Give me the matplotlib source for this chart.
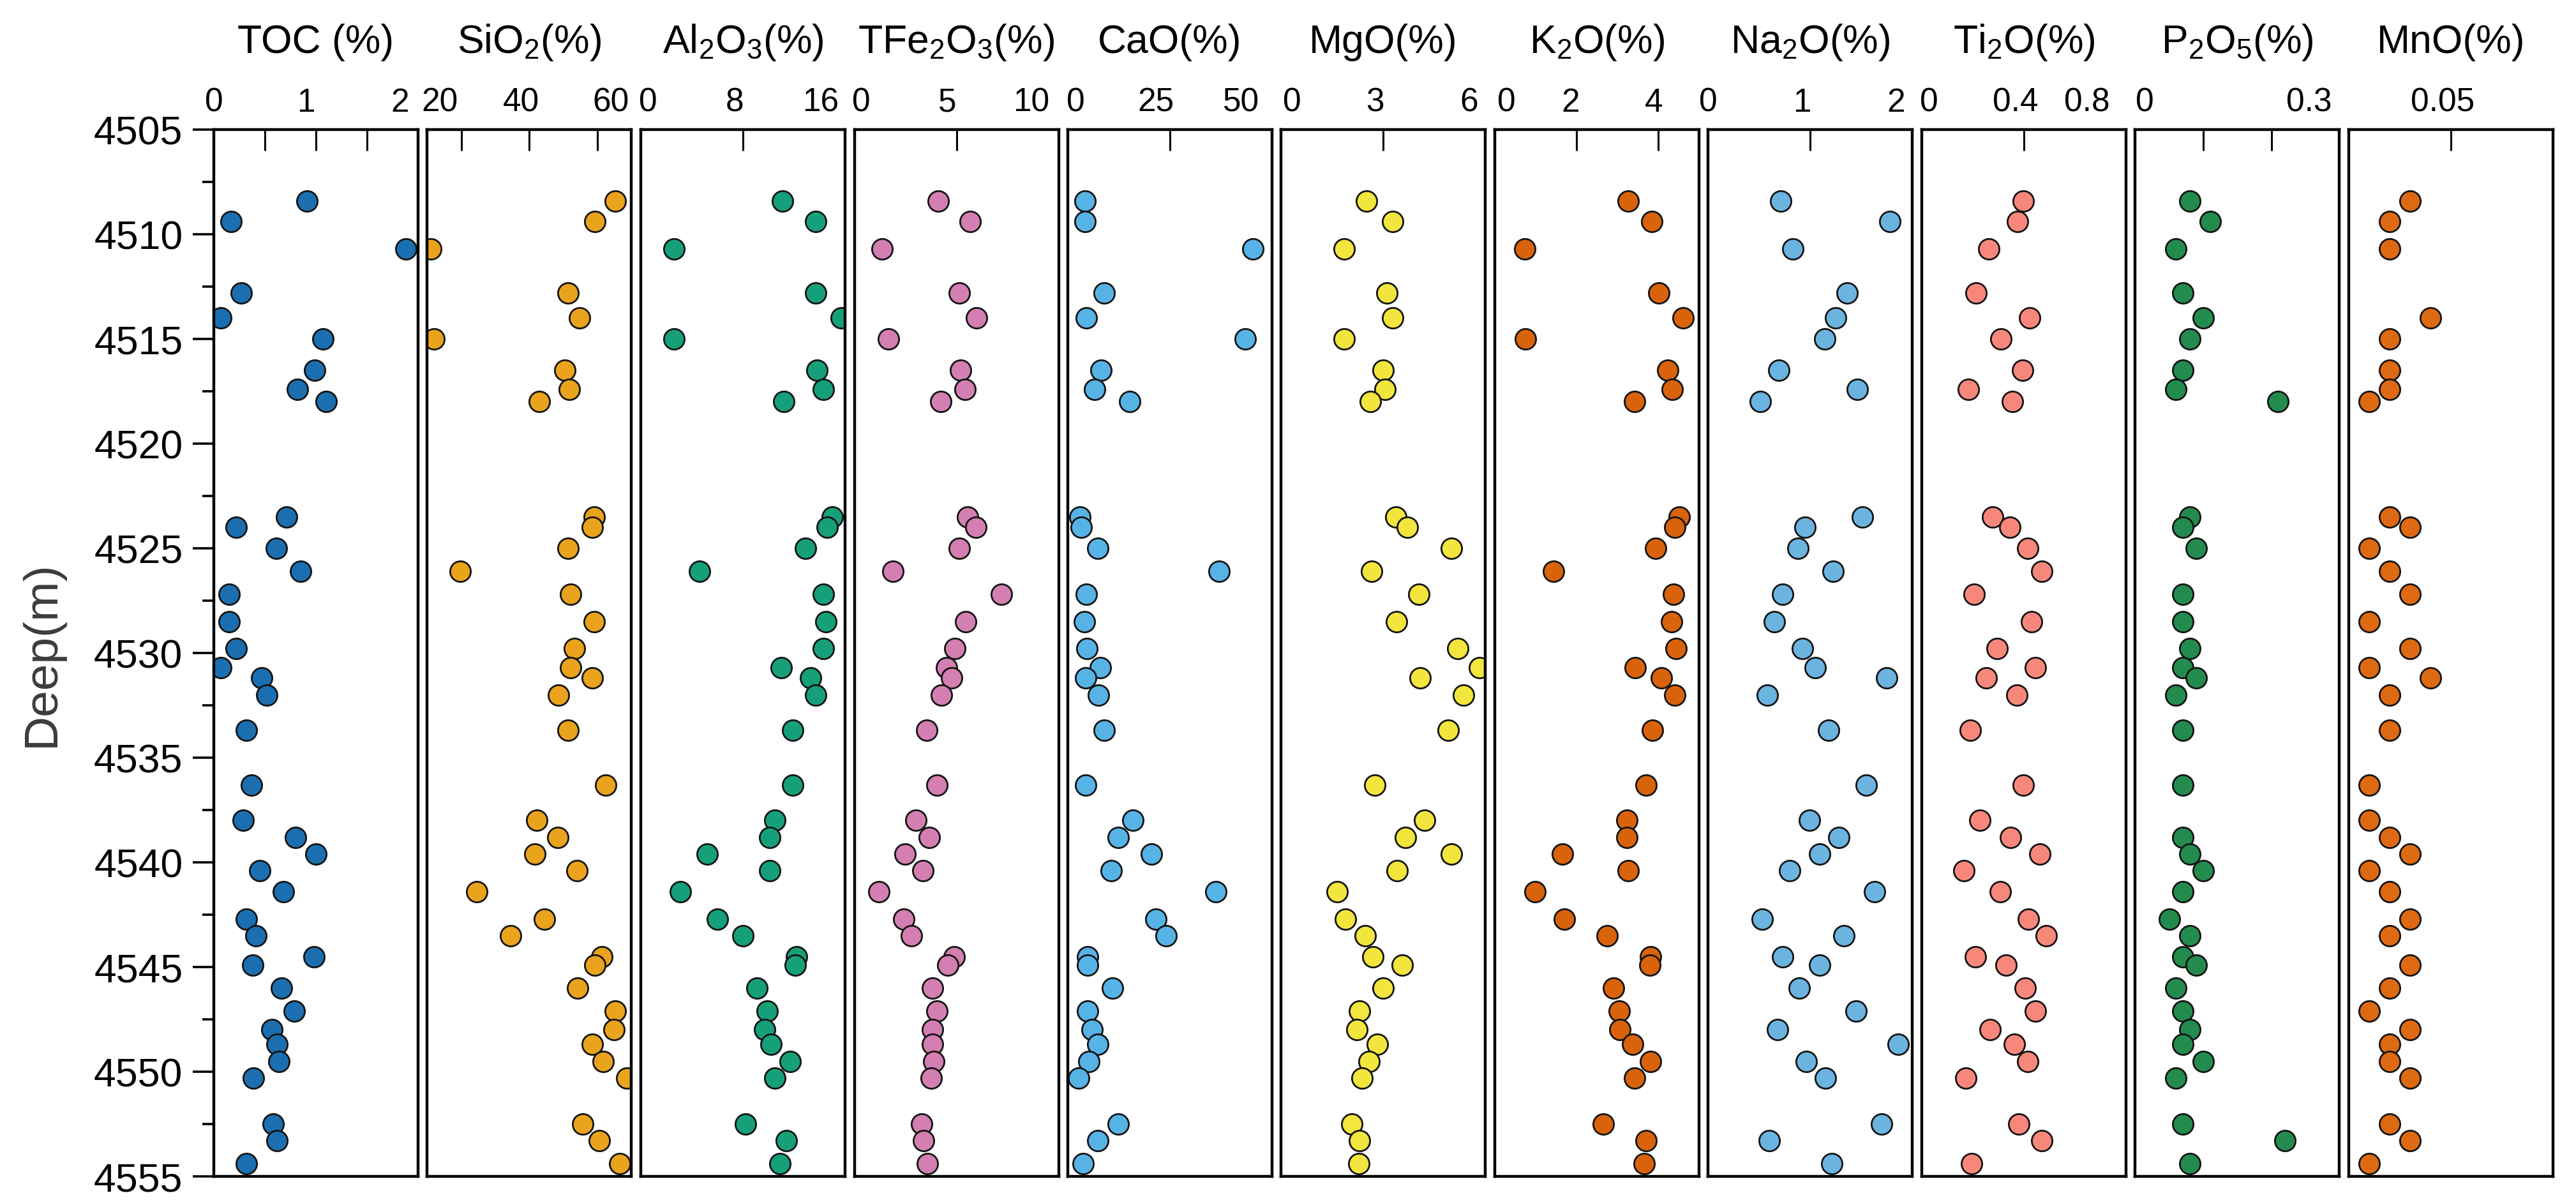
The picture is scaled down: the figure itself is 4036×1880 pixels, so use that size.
import numpy as np
import matplotlib
matplotlib.use("Agg")
import matplotlib.pyplot as plt
from matplotlib.ticker import FixedLocator, MultipleLocator

plt.rcParams['font.family'] = ['Liberation Sans', 'DejaVu Sans']
plt.rcParams['mathtext.fontset'] = 'custom'
plt.rcParams['mathtext.rm'] = 'Liberation Sans'
plt.rcParams['mathtext.it'] = 'Liberation Sans'
plt.rcParams['mathtext.default'] = 'regular'

nan = np.nan

# sample depths (m)
depth = [4508.4, 4509.4, 4510.7, 4512.8, 4514.0, 4515.0, 4516.5, 4517.4, 4518.0,
         4523.5, 4524.0, 4525.0, 4526.1, 4527.2, 4528.5, 4529.8, 4530.7, 4531.2,
         4532.0, 4533.7, 4536.3, 4538.0, 4538.8, 4539.6, 4540.4, 4541.4, 4542.7,
         4543.5, 4544.5, 4544.9, 4546.0, 4547.1, 4548.0, 4548.7, 4549.5, 4550.3,
         4552.5, 4553.3, 4554.4]

toc = [0.91, 0.17, 1.88, 0.27, 0.07, 1.07, 0.99, 0.82, 1.10,
       0.71, 0.22, 0.61, 0.85, 0.15, 0.15, 0.22, 0.07, 0.47,
       0.52, 0.32, 0.37, 0.29, 0.80, 1.00, 0.45, 0.68, 0.32,
       0.41, 0.98, 0.38, 0.66, 0.79, 0.57, 0.62, 0.64, 0.39,
       0.58, 0.62, 0.32]
sio2 = [65.2, 59.3, 11.0, 51.3, 54.8, 11.9, 50.4, 51.7, 42.9,
        59.0, 58.5, 51.3, 19.6, 52.1, 59.0, 53.2, 52.1, 58.5,
        48.5, 51.3, 62.5, 42.1, 48.4, 41.6, 54.0, 24.6, 44.5,
        34.4, 61.2, 59.3, 54.1, 65.2, 64.9, 58.5, 61.7, 68.6,
        55.7, 60.6, 66.5]
al2o3 = [11.1, 13.7, 2.6, 13.7, 15.7, 2.6, 13.8, 14.3, 11.2,
         15.0, 14.6, 12.9, 4.6, 14.3, 14.5, 14.3, 11.0, 13.3,
         13.7, 11.9, 11.9, 10.5, 10.1, 5.2, 10.1, 3.1, 6.0,
         8.0, 12.2, 12.1, 9.1, 9.9, 9.7, 10.2, 11.7, 10.5,
         8.2, 11.4, 10.9]
tfe2o3 = [4.10, 5.68, 1.37, 5.13, 5.98, 1.66, 5.19, 5.41, 4.24,
          5.54, 5.96, 5.13, 1.90, 7.19, 5.45, 4.93, 4.53, 4.75,
          4.26, 3.56, 4.04, 3.01, 3.68, 2.48, 3.35, 1.21, 2.42,
          2.79, 4.89, 4.59, 3.82, 4.06, 3.82, 3.82, 3.88, 3.76,
          3.31, 3.39, 3.58]
cao = [4.2, 4.2, 45.3, 8.9, 4.6, 43.4, 8.1, 6.6, 15.2,
       3.0, 3.3, 7.3, 37.0, 4.6, 4.1, 4.7, 8.0, 4.3,
       7.5, 8.9, 4.4, 16.0, 12.4, 20.5, 10.6, 36.3, 21.5,
       24.1, 4.8, 4.9, 11.0, 4.8, 5.9, 7.3, 5.1, 2.6,
       12.4, 7.3, 3.7]
mgo = [2.51, 3.28, 1.84, 3.11, 3.28, 1.84, 2.99, 3.05, 2.62,
       3.36, 3.71, 4.99, 2.66, 4.05, 3.38, 5.19, 5.82, 4.08,
       5.35, 4.90, 2.74, 4.21, 3.65, 5.00, 3.41, 1.65, 1.89,
       2.47, 2.69, 3.56, 2.99, 2.30, 2.23, 2.82, 2.57, 2.37,
       2.08, 2.30, 2.27]
k2o = [3.27, 3.85, 0.73, 4.02, 4.61, 0.75, 4.24, 4.35, 3.42,
       4.51, 4.41, 3.93, 1.43, 4.38, 4.33, 4.43, 3.44, 4.08,
       4.41, 3.86, 3.71, 3.24, 3.24, 1.66, 3.26, 0.99, 1.71,
       2.75, 3.81, 3.80, 2.91, 3.04, 3.07, 3.37, 3.81, 3.42,
       2.65, 3.70, 3.66]
na2o = [0.71, 1.78, 0.83, 1.36, 1.25, 1.14, 0.69, 1.46, 0.51,
        1.51, 0.95, 0.88, 1.22, 0.73, 0.65, 0.92, 1.05, 1.75,
        0.58, 1.18, 1.55, 0.99, 1.28, 1.09, 0.80, 1.63, 0.53,
        1.33, 0.73, 1.09, 0.89, 1.45, 0.68, 1.86, 0.96, 1.15,
        1.70, 0.60, 1.21]
ti2o = [0.398, 0.375, 0.263, 0.213, 0.422, 0.310, 0.394, 0.183, 0.356,
        0.278, 0.344, 0.414, 0.471, 0.206, 0.430, 0.294, 0.446, 0.253,
        0.373, 0.190, 0.398, 0.227, 0.347, 0.463, 0.166, 0.307, 0.417,
        0.487, 0.211, 0.331, 0.404, 0.446, 0.268, 0.362, 0.414, 0.172,
        0.381, 0.471, 0.196]
p2o5 = [0.08, 0.11, 0.06, 0.07, 0.10, 0.08, 0.07, 0.06, 0.21,
        0.08, 0.07, 0.09, nan, 0.07, 0.07, 0.08, 0.07, 0.09,
        0.06, 0.07, 0.07, nan, 0.07, 0.08, 0.10, 0.07, 0.05,
        0.08, 0.07, 0.09, 0.06, 0.07, 0.08, 0.07, 0.10, 0.06,
        0.07, 0.22, 0.08]
mno = [0.03, 0.02, 0.02, nan, 0.04, 0.02, 0.02, 0.02, 0.01,
       0.02, 0.03, 0.01, 0.02, 0.03, 0.01, 0.03, 0.01, 0.04,
       0.02, 0.02, 0.01, 0.01, 0.02, 0.03, 0.01, 0.02, 0.03,
       0.02, nan, 0.03, 0.02, 0.01, 0.03, 0.02, 0.02, 0.03,
       0.02, 0.03, 0.01]

titles = ['TOC (%)', 'SiO$_2$(%)', 'Al$_2$O$_3$(%)', 'TFe$_2$O$_3$(%)', 'CaO(%)',
          'MgO(%)', 'K$_2$O(%)', 'Na$_2$O(%)', 'Ti$_2$O(%)', 'P$_2$O$_5$(%)', 'MnO(%)']
series = [toc, sio2, al2o3, tfe2o3, cao, mgo, k2o, na2o, ti2o, p2o5, mno]
x_ranges = [(0, 2), (10, 70), (0, 16), (0, 10), (0, 50), (0, 6),
            (0, 5), (0, 2), (0, 0.8), (0, 0.3), (0, 0.1)]
tick_marks = [[0.5, 1, 1.5], [20, 40, 60], [8], [5], [25], [3],
              [2, 4], [1], [0.4], [0.1, 0.2], [0.05]]
tick_labels = [['0', '1', '2'], ['20', '40', '60'], ['0', '8', '16'], ['0', '5', '10'],
               ['0', '25', '50'], ['0', '3', '6'], ['0', '2', '4'], ['0', '1', '2'],
               ['0', '0.4', '0.8'], ['0', '0.3'], ['0.05']]
colors = ['#1b6fb0', '#e9a31d', '#16a07a', '#d37fb1', '#57b3e6', '#f2e53d',
          '#d8630b', '#6cb4e0', '#f8877b', '#238b4e', '#dd6a12']

# where the top labels sit, as fraction of panel width
label_frac = [[0.0, 0.45, 0.91], [0.06, 0.46, 0.90], [0.035, 0.46, 0.88],
              [0.035, 0.456, 0.866], [0.04, 0.43, 0.85], [0.053, 0.46, 0.92],
              [0.056, 0.37, 0.78], [0.0, 0.46, 0.92], [0.034, 0.46, 0.81],
              [0.047, 0.85], [0.46]]

W, H = 4037, 1881
fig = plt.figure(figsize=(W / 100, H / 100), dpi=100)

top_px, bot_px = 204, 1844
pw, pitch, x0 = 320, 334.5, 335

for i in range(11):
    left = (x0 + i * pitch) / W
    ax = fig.add_axes([left, 1 - bot_px / H, pw / W, (bot_px - top_px) / H])
    ax.scatter(series[i], depth, s=540, c=colors[i], edgecolors='#151515',
               linewidths=2.0, zorder=2)
    lo, hi = x_ranges[i]
    ax.set_xlim(lo, hi)
    ax.set_ylim(4555, 4505)
    for sp in ax.spines.values():
        sp.set_linewidth(3.2)
        sp.set_zorder(3)

    ax.xaxis.tick_top()
    ax.xaxis.set_major_locator(FixedLocator([lo + f * (hi - lo) for f in label_frac[i]]))
    ax.set_xticklabels(tick_labels[i])
    ax.xaxis.set_minor_locator(FixedLocator(tick_marks[i]))
    ax.tick_params(axis='x', which='major', length=0, pad=13, labelsize=37)
    ax.tick_params(axis='x', which='minor', direction='in', length=24, width=2.2,
                   top=True, bottom=False)

    if i == 0:
        ax.yaxis.set_major_locator(MultipleLocator(5))
        ax.yaxis.set_minor_locator(MultipleLocator(2.5))
        ax.tick_params(axis='y', which='major', direction='out', length=24,
                       width=2.6, pad=11, labelsize=45)
        ax.tick_params(axis='y', which='minor', direction='out', length=13, width=2.6)
    else:
        ax.set_yticks([])
        ax.tick_params(axis='y', which='both', left=False)

    fig.text(left + pw / W / 2, 1 - 83 / H, titles[i], ha='center', va='baseline',
             fontsize=45)

fig.text(65 / W, 1 - (top_px + bot_px) / 2 / H, 'Deep(m)', rotation=90,
         ha='center', va='center', fontsize=54, color='#3c3c3c')

fig.savefig('out.png', dpi=100)
